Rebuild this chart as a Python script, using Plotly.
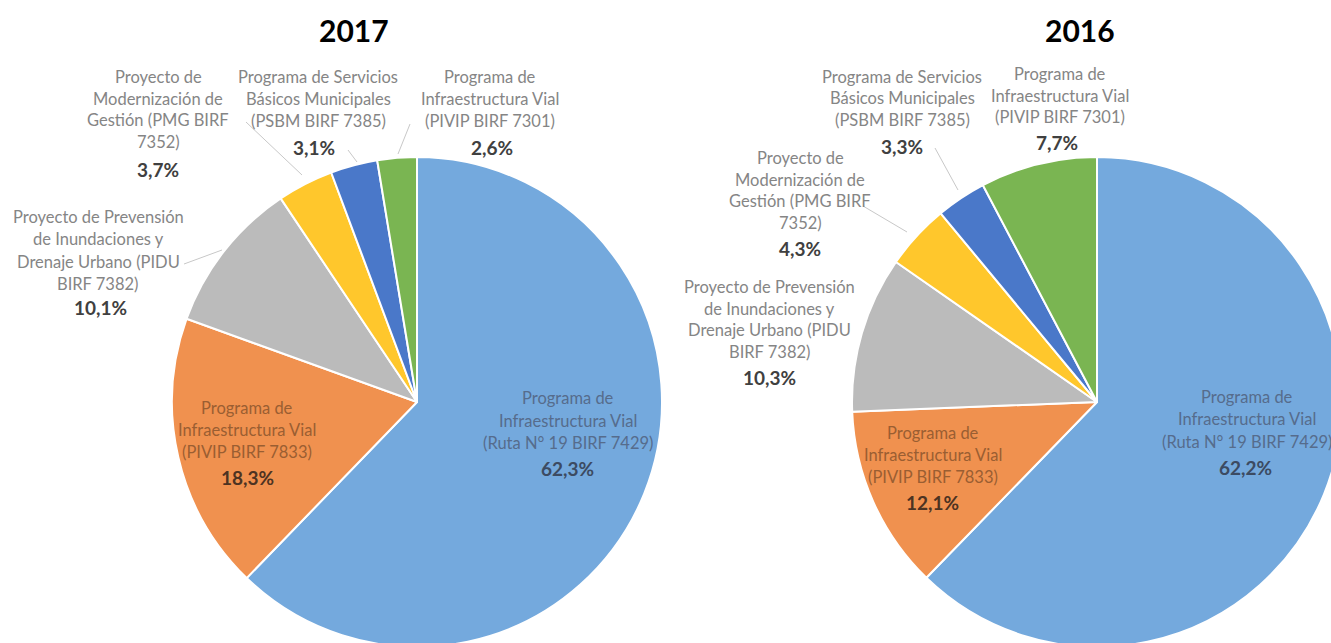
import plotly.graph_objects as go

# ---------------- data ----------------
categories = [
    "Programa de Infraestructura Vial (Ruta N° 19 BIRF 7429)",
    "Programa de Infraestructura Vial (PIVIP BIRF 7833)",
    "Proyecto de Prevensión de Inundaciones y Drenaje Urbano (PIDU BIRF 7382)",
    "Proyecto de Modernización de Gestión (PMG BIRF 7352)",
    "Programa de Servicios Básicos Municipales (PSBM BIRF 7385)",
    "Programa de Infraestructura Vial (PIVIP BIRF 7301)",
]
label_lines = [
    ["Programa de", "Infraestructura Vial", "(Ruta N° 19 BIRF 7429)"],
    ["Programa de", "Infraestructura Vial", "(PIVIP BIRF 7833)"],
    ["Proyecto de Prevensión", "de Inundaciones y", "Drenaje Urbano (PIDU", "BIRF 7382)"],
    ["Proyecto de", "Modernización de", "Gestión (PMG BIRF", "7352)"],
    ["Programa de Servicios", "Básicos Municipales", "(PSBM BIRF 7385)"],
    ["Programa de", "Infraestructura Vial", "(PIVIP BIRF 7301)"],
]
years = ["2017", "2016"]
values_2017 = [62.3, 18.3, 10.1, 3.7, 3.1, 2.6]
values_2016 = [62.2, 12.1, 10.3, 4.3, 3.3, 7.7]

# ---------------- style / layout ----------------
colors = ["#74A9DD", "#F0914F", "#BBBBBB", "#FFC72C", "#4A78C9", "#7AB552"]
W, H = 1345, 650
FONT = "Lato"


def px(x):
    return x / W


def py(y):
    return 1 - y / H


def domain(cx, cy, r):
    return dict(x=[(cx - r) / W, (cx + r) / W], y=[(H - cy - r) / H, (H - cy + r) / H])


def fmt(v):
    return f"{v:.1f}".replace(".", ",") + "%"


pies = [
    dict(values=values_2017, center=(417, 402), r=245, title_pos=(354, 30),
         # per category: (center x, first line y, line step, pct x, pct y)
         labels=[(568, 398, 22.5, 567, 468),
                 (247, 408, 22, 247, 477),
                 (98, 217, 22.3, 100, 307),
                 (158, 77, 21.7, 158, 170),
                 (318, 77, 22, 314, 147),
                 (490, 77, 22, 492, 147)],
         leaders=[(184, 264, 222, 250), (246, 122, 302, 175),
                  (348, 150, 357, 162), (410, 124, 398, 154)]),
    dict(values=values_2016, center=(1097, 402), r=245, title_pos=(1080, 30),
         labels=[(1247, 397, 22.5, 1245, 467),
                 (933, 433, 22, 932, 502),
                 (770, 287, 21.7, 770, 377),
                 (800, 158, 21.7, 800, 248),
                 (902, 77, 21.5, 902, 146),
                 (1060, 74, 21.5, 1057, 143)],
         leaders=[(935, 148, 958, 190), (863, 206, 907, 232)]),
]

inside_colors = {0: ("#566c8c", "#3c4b62"), 1: ("#9a5e32", "#4d3322")}
outside_colors = ("#858585", "#404040")

fig = go.Figure()
annotations = []
shapes = []

for year, p in zip(years, pies):
    cx, cy = p["center"]
    fig.add_trace(go.Pie(
        labels=categories,
        values=p["values"],
        sort=False,
        direction="clockwise",
        rotation=0,
        textinfo="none",
        hovertemplate="%{label}: %{value}%<extra></extra>",
        marker=dict(colors=colors, line=dict(color="white", width=2)),
        domain=domain(cx, cy, p["r"]),
        showlegend=False,
        name=year,
    ))
    tx, ty = p["title_pos"]
    annotations.append(dict(x=px(tx), y=py(ty), xref="paper", yref="paper",
                            text=f"<b>{year}</b>", showarrow=False,
                            xanchor="center", yanchor="middle",
                            font=dict(family=FONT, size=30, color="black")))
    for i, (lx, ly, step, pcx, pcy) in enumerate(p["labels"]):
        c_name, c_pct = inside_colors.get(i, outside_colors)
        for j, line in enumerate(label_lines[i]):
            annotations.append(dict(x=px(lx), y=py(ly + j * step), xref="paper", yref="paper",
                                    text=line, showarrow=False,
                                    xanchor="center", yanchor="middle",
                                    font=dict(family=FONT, size=16.5, color=c_name)))
        annotations.append(dict(x=px(pcx), y=py(pcy), xref="paper", yref="paper",
                                text=f"<b>{fmt(p['values'][i])}</b>", showarrow=False,
                                xanchor="center", yanchor="middle",
                                font=dict(family=FONT, size=19, color=c_pct)))
    for (x0, y0, x1, y1) in p["leaders"]:
        shapes.append(dict(type="line", xref="paper", yref="paper",
                           x0=px(x0), y0=py(y0), x1=px(x1), y1=py(y1),
                           line=dict(color="#c8c8c8", width=1)))

fig.update_layout(
    width=W, height=H,
    margin=dict(l=0, r=0, t=0, b=0),
    paper_bgcolor="white",
    plot_bgcolor="white",
    annotations=annotations,
    shapes=shapes,
    font=dict(family=FONT),
)

fig.write_html(
    "out.html",
    config={"displayModeBar": False},
    post_script="document.documentElement.style.overflow='hidden';"
                "document.body.style.overflow='hidden';"
                "document.body.style.margin='0';",
)
